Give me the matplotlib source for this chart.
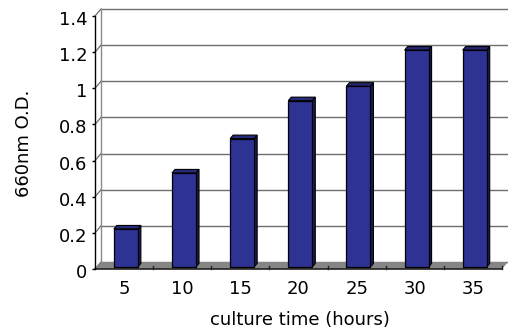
import matplotlib
matplotlib.use("Agg")
import matplotlib.pyplot as plt
from matplotlib.patches import Polygon
from matplotlib import transforms

plt.rcParams["font.family"] = ["DejaVu Sans"]
plt.rcParams["font.size"] = 13

# Optical density of the culture over time
hours = ["5", "10", "15", "20", "25", "30", "35"]
od660 = [0.21, 0.52, 0.71, 0.92, 1.0, 1.2, 1.2]
y_ticks = [0, 0.2, 0.4, 0.6, 0.8, 1, 1.2, 1.4]
y_tick_labels = ["0", "0.2", "0.4", "0.6", "0.8", "1", "1.2", "1.4"]

W, H, DPI = 508, 332, 100
fig = plt.figure(figsize=(W / DPI, H / DPI), dpi=DPI)
fig.patch.set_facecolor("white")

# front plane of the pseudo-3D box, in pixels
left, right, top, bottom = 95, 502, 16, 269
ax = fig.add_axes([left / W, (H - bottom) / H, (right - left) / W, (bottom - top) / H])
n = len(hours)
ymax = 1.4
ax.set_xlim(0, n)
ax.set_ylim(0, ymax)
for s in ax.spines.values():
    s.set_visible(False)
ax.patch.set_visible(False)

# depth offset (front -> back wall) expressed in data units
px_x = n / (right - left)
px_y = ymax / (bottom - top)
DX, DY = 6 * px_x, 7 * px_y


def dp(x, y, t):
    return (x + t * DX, y + t * DY)


grid_c = "#6e6e6e"
# back wall gridlines
for v in y_ticks:
    ax.plot([DX, n + DX], [v + DY, v + DY], color=grid_c, lw=1.0, clip_on=False, zorder=1)
    # slanted marks on the side wall
    ax.plot([0, DX], [v, v + DY], color=grid_c, lw=0.9, clip_on=False, zorder=1)
# back wall left edge
ax.plot([DX, DX], [DY, ymax + DY], color="#8a8a8a", lw=1.0, clip_on=False, zorder=1)

# floor
floor = Polygon([dp(0, 0, 0), dp(n, 0, 0), dp(n, 0, 1), dp(0, 0, 1)], closed=True,
                facecolor="#858585", edgecolor="none", clip_on=False, zorder=2)
ax.add_patch(floor)
ax.plot([0, n], [0, 0], color="#222222", lw=1.2, clip_on=False, zorder=3)
for k in range(1, n + 1):
    ax.plot([k, k], [0, 3 * px_y], color="#222222", lw=1.0, clip_on=False, zorder=3)

# front vertical axis
ax.plot([0, 0], [0, ymax], color="black", lw=1.0, clip_on=False, zorder=3)

# bars
bw = 24 * px_x
t1, t2 = 0.3, 0.8
front_c, side_c, top_c = "#2E3393", "#1A1C55", "#272A78"
for i, v in enumerate(od660):
    xc = i + 0.5
    x0, x1 = xc - bw / 2, xc + bw / 2
    side = Polygon([dp(x1, 0, t1), dp(x1, v, t1), dp(x1, v, t2), dp(x1, 0, t2)],
                   closed=True, facecolor=side_c, edgecolor="black", lw=0.8, zorder=4)
    topf = Polygon([dp(x0, v, t1), dp(x1, v, t1), dp(x1, v, t2), dp(x0, v, t2)],
                   closed=True, facecolor=top_c, edgecolor="black", lw=0.8, zorder=4)
    ax.add_patch(side)
    ax.add_patch(topf)
ax.bar([dp(i + 0.5, 0, t1)[0] for i in range(n)], od660, width=bw,
       bottom=t1 * DY, color=front_c, edgecolor="black", lw=0.9, zorder=5)

# ticks and labels
ax.set_xticks([i + 0.5 for i in range(n)])
ax.set_xticklabels(hours)
ax.set_yticks(y_ticks)
ax.set_yticklabels(y_tick_labels)
ax.tick_params(axis="x", length=0, pad=8)
ax.tick_params(axis="y", length=2.5, width=1.0, color="black", pad=3)
# nudge y tick labels slightly downward
shift = transforms.ScaledTranslation(0, -2 / DPI, fig.dpi_scale_trans)
for lab in ax.get_yticklabels():
    lab.set_transform(lab.get_transform() + shift)

fig.text(300 / W, 1 - 320 / H, "culture time (hours)", ha="center", va="center")
fig.text(24 / W, 1 - 143 / H, "660nm O.D.", ha="center", va="center", rotation=90)

fig.savefig("out.png", dpi=DPI, facecolor="white")
